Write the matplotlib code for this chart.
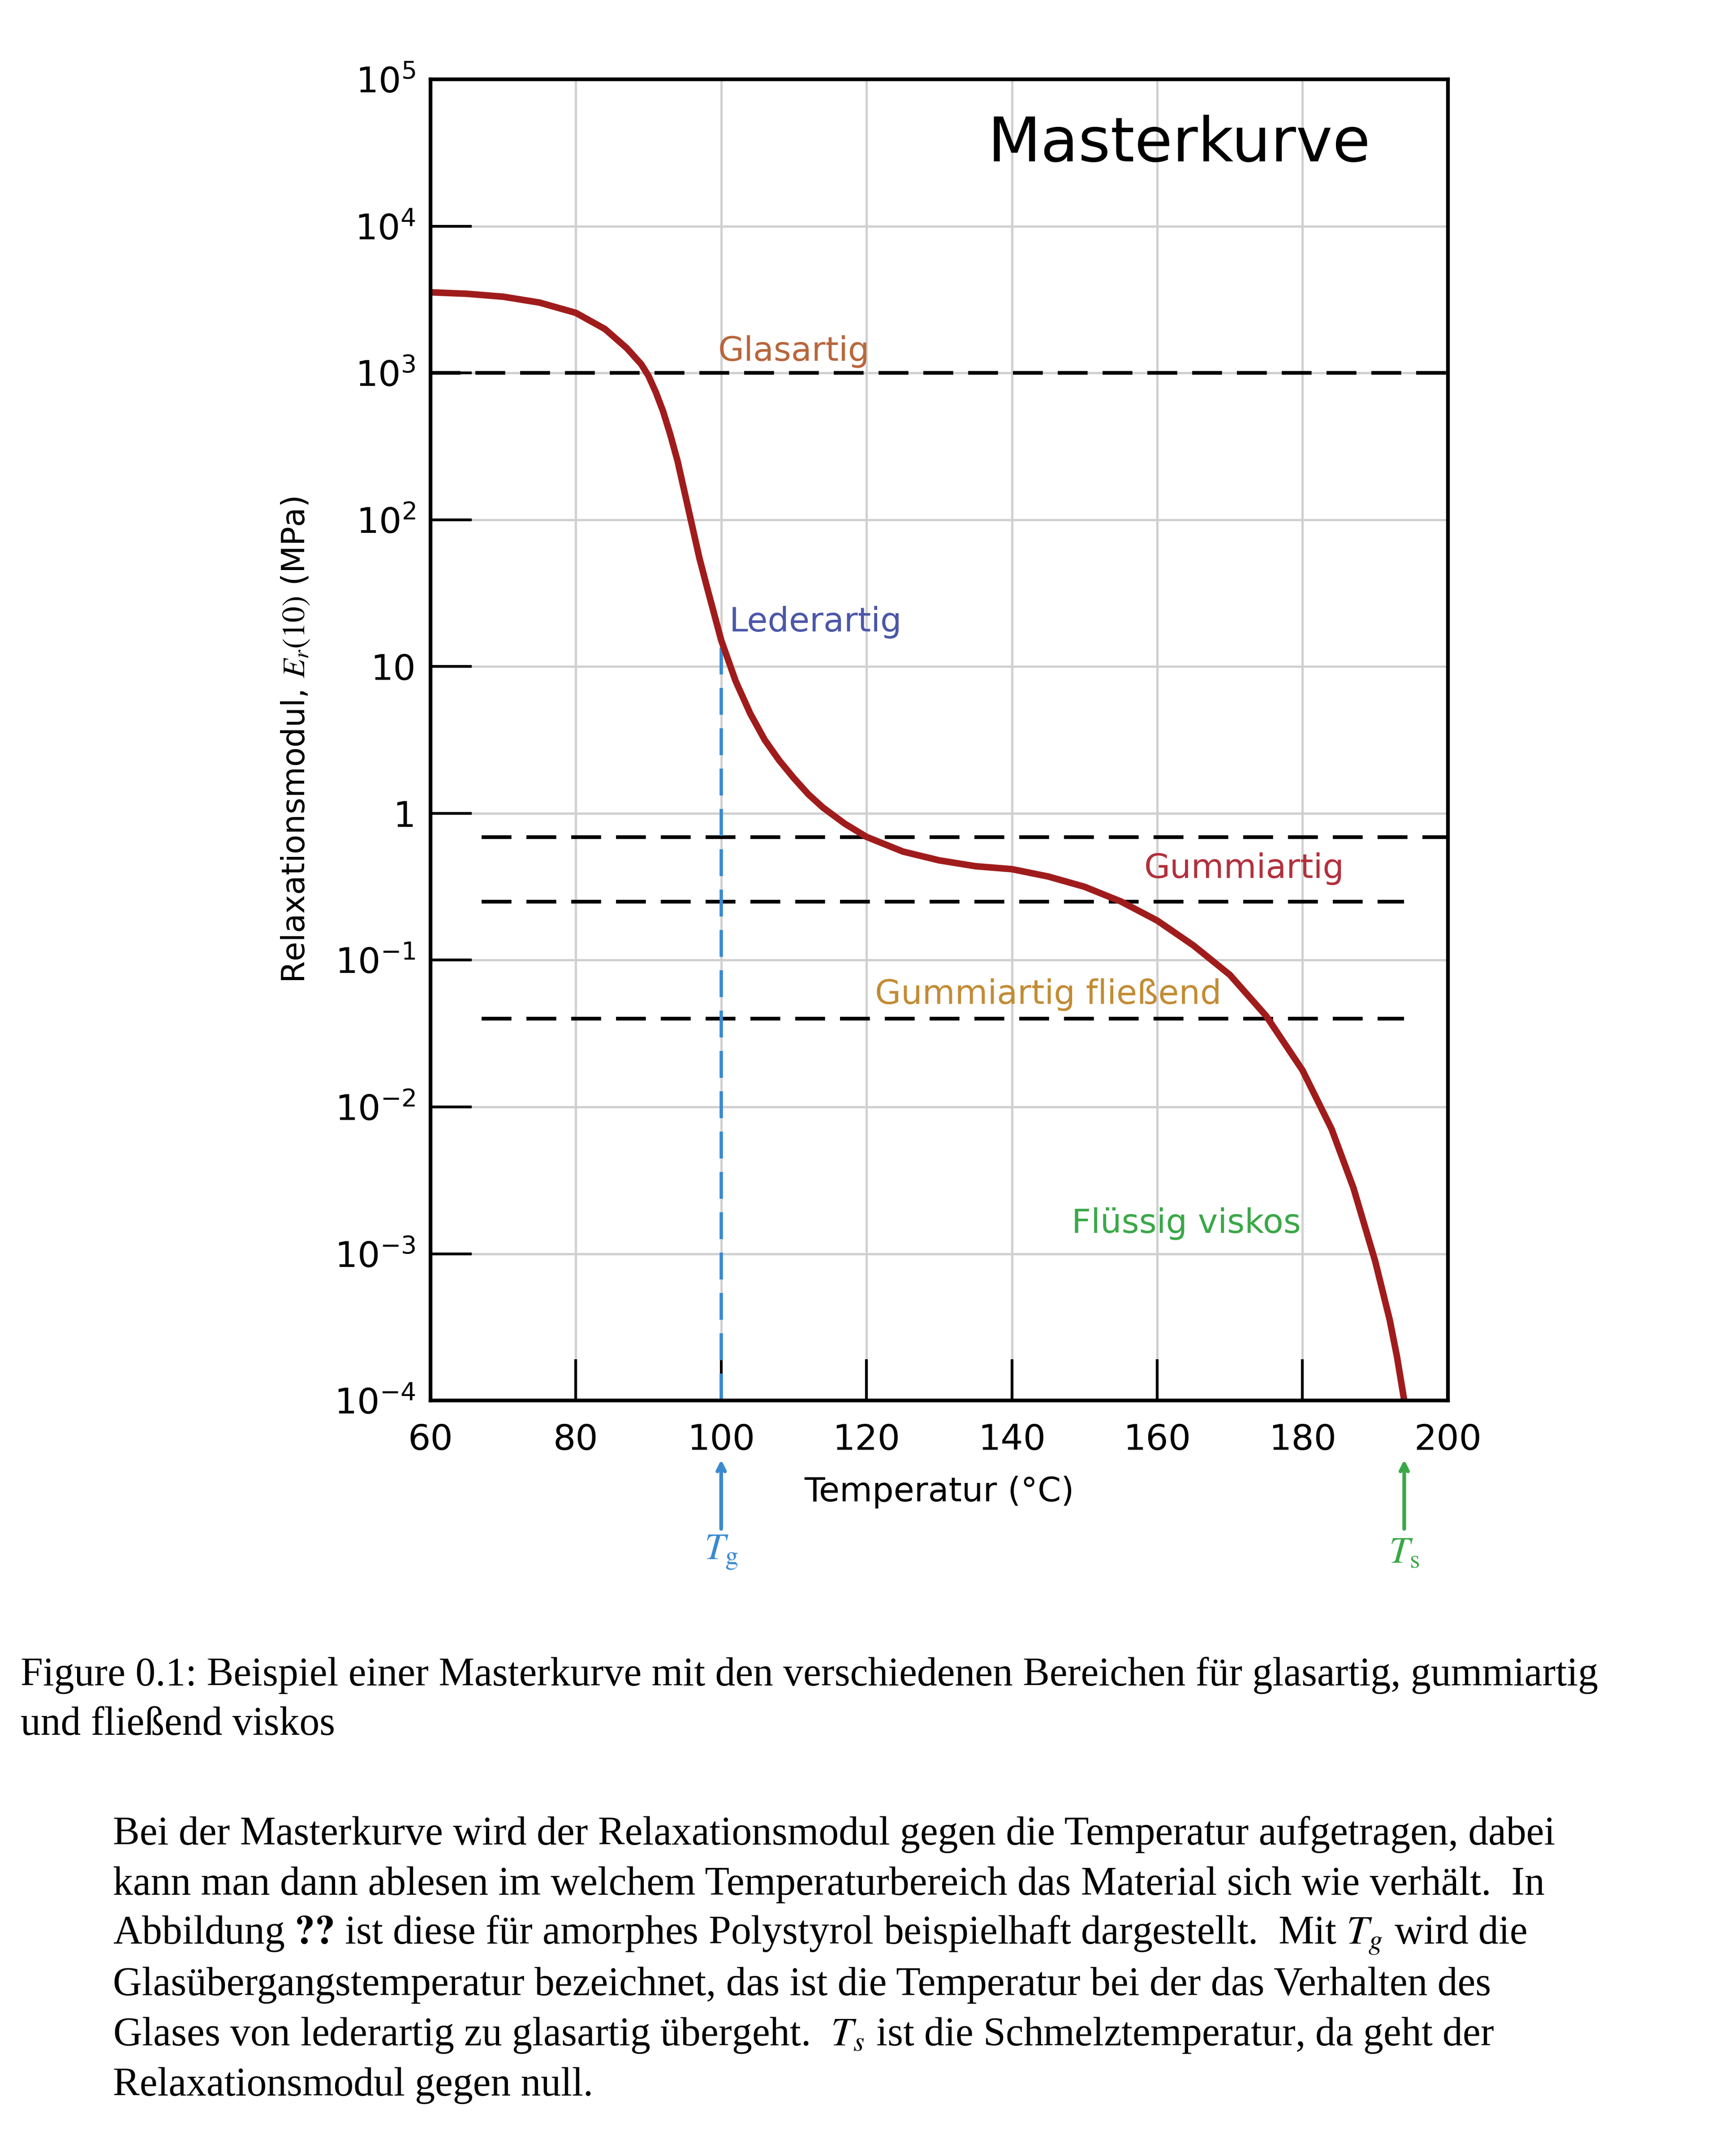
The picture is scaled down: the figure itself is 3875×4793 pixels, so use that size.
import matplotlib.pyplot as plt
import numpy as np

plt.rcParams['mathtext.fontset'] = 'dejavusans'

# master curve (temperature in degC, log10 of modulus in MPa)
temp = [60, 65, 70, 75, 80, 84, 87, 89, 90, 91, 92, 93, 94, 95, 96, 97, 98, 100, 102, 104,
        106, 108, 110, 112, 114, 117, 120, 125, 130, 135, 140, 145, 150, 155, 160, 165, 170,
        175, 180, 184, 187, 190, 192, 193, 194]
log_mod = [3.55, 3.54, 3.52, 3.48, 3.41, 3.30, 3.17, 3.06, 2.98, 2.87, 2.74, 2.58, 2.40, 2.18,
           1.96, 1.74, 1.55, 1.18, 0.90, 0.68, 0.50, 0.36, 0.24, 0.13, 0.04, -0.07, -0.16,
           -0.26, -0.32, -0.36, -0.38, -0.43, -0.50, -0.60, -0.73, -0.90, -1.10, -1.38, -1.75,
           -2.15, -2.55, -3.05, -3.45, -3.70, -4.0]
modulus = [10 ** v for v in log_mod]

# dashed region borders: (level, T start, T end)
borders = [(1000, 60, 200), (0.69, 67, 200), (0.25, 67, 194), (0.04, 67, 194)]

regions = [("Glasartig", 110, 1400, "#b8663c"),
           ("Lederartig", 113, 20, "#4b57a8"),
           ("Gummiartig", 172, 0.42, "#b2303c"),
           ("Gummiartig fließend", 145, 0.058, "#c28c34"),
           ("Flüssig viskos", 164, 0.0016, "#3aa848")]

y_ticks = [1e-4, 1e-3, 1e-2, 1e-1, 1, 10, 1e2, 1e3, 1e4, 1e5]
y_labels = ["$10^{-4}$", "$10^{-3}$", "$10^{-2}$", "$10^{-1}$", "1", "10",
            "$10^{2}$", "$10^{3}$", "$10^{4}$", "$10^{5}$"]
x_ticks = [60, 80, 100, 120, 140, 160, 180, 200]

fig = plt.figure(figsize=(3875 / 300, 4793 / 300), dpi=300)
ax = fig.add_axes([0.248, 0.348, 0.586, 0.615])
ax.set_yscale('log')
ax.set_xlim(60, 200)
ax.set_ylim(1e-4, 1e5)

for t in x_ticks:
    ax.axvline(t, color='#d0d0d0', lw=1.2, zorder=0)
for v in y_ticks:
    ax.axhline(v, color='#d0d0d0', lw=1.2, zorder=0)

for level, t0, t1 in borders:
    ax.plot([t0, t1], [level, level], color='black', lw=2, dashes=(8, 4))

ax.plot([100, 100], [1e-4, 14], color='#3a8ad0', lw=1.8, dashes=(8, 4))
ax.plot(temp, modulus, color='#a01c1c', lw=3.5, solid_capstyle='round', solid_joinstyle='round')

for name, t, v, c in regions:
    ax.text(t, v, name, color=c, fontsize=18, ha='center', va='center')

ax.text(163, 3.6e4, "Masterkurve", fontsize=33, ha='center', va='center')

ax.set_yticks(y_ticks)
ax.set_yticklabels(y_labels)
ax.minorticks_off()
ax.set_xticks(x_ticks)
ax.tick_params(axis='both', direction='in', length=22, width=1.5, labelsize=19)
ax.tick_params(axis='x', pad=12)
ax.tick_params(axis='y', pad=8)
for s in ax.spines.values():
    s.set_linewidth(2)
ax.set_xlabel("Temperatur (°C)", fontsize=18, labelpad=10)
ax.set_ylabel("Relaxationsmodul, $E_r(10)$ (MPa)", fontsize=17, math_fontfamily='stix',
              labelpad=12)

# arrows for Tg and Ts
for t, lab, c in [(100, "$T_\\mathrm{g}$", "#3a8ad0"), (194, "$T_\\mathrm{s}$", "#3aa848")]:
    ax.annotate("", xy=(t, -0.042), xytext=(t, -0.1), xycoords=('data', 'axes fraction'),
                textcoords=('data', 'axes fraction'),
                arrowprops=dict(arrowstyle='->', color=c, lw=2))
    ax.text(t, -0.115, lab, color=c, fontsize=20, ha='center', va='center',
            transform=ax.get_xaxis_transform(), math_fontfamily='stix')

serif = 'Liberation Serif'
fig.text(0.012, 0.220, "Figure 0.1: Beispiel einer Masterkurve mit den verschiedenen Bereichen für glasartig, gummiartig",
         fontsize=21.5, family=serif, va='center')
fig.text(0.012, 0.197, "und fließend viskos", fontsize=21.5, family=serif, va='center')

para = ["Bei der Masterkurve wird der Relaxationsmodul gegen die Temperatur aufgetragen, dabei",
        "kann man dann ablesen im welchem Temperaturbereich das Material sich wie verhält.  In",
        "Abbildung $\\mathbf{??}$ ist diese für amorphes Polystyrol beispielhaft dargestellt.  Mit $T_g$ wird die",
        "Glasübergangstemperatur bezeichnet, das ist die Temperatur bei der das Verhalten des",
        "Glases von lederartig zu glasartig übergeht.  $T_s$ ist die Schmelztemperatur, da geht der",
        "Relaxationsmodul gegen null."]
for i, line in enumerate(para):
    fig.text(0.065, 0.146 - i * 0.0234, line, fontsize=21.5, family=serif, va='center',
             math_fontfamily='stix')

plt.savefig("out.png", dpi=300)
